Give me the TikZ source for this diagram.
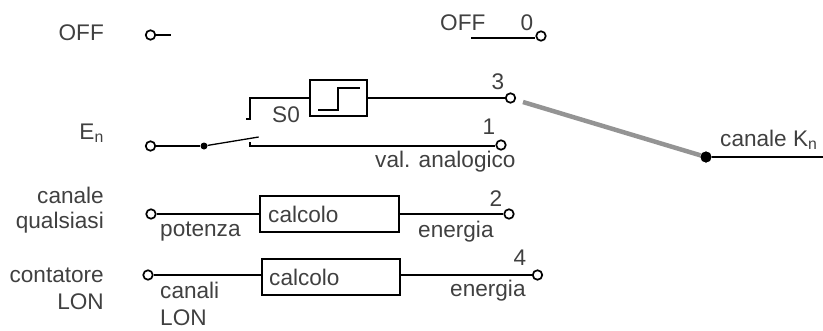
\documentclass[tikz,border=0pt]{standalone}
\usepackage{fontspec}
\setmainfont{Liberation Sans}
\begin{document}
\begin{tikzpicture}[x=1pt,y=-1pt,
  wire/.style={line width=2.1pt,black},
  thin wire/.style={line width=1.3pt,black},
  term/.style={circle,draw=black,line width=1.7pt,fill=white,minimum size=9.5pt,inner sep=0pt},
  jdot/.style={circle,fill=black,inner sep=0pt,minimum size=#1},
  block/.style={draw=black,line width=2.1pt,inner sep=0pt},
  lab/.style={inner sep=0pt,text=black!75,font=\fontsize{22.6}{25}\selectfont},
  leftlab/.style={lab,align=right,anchor=east}]
\useasboundingbox (0,0) rectangle (823,330);
% terminals
\node[term] (toff) at (150.5,35) {};
\coordinate (toffe) at (171,35);
\coordinate (off0s) at (471,38);
\node[term] (t0) at (541,36) {};
\node[term] (t3) at (510.5,98) {};
\node[term] (t1) at (501,145) {};
\node[term] (ten) at (150.5,146) {};
\node[term] (tq) at (151,214) {};
\node[term] (t2) at (509,214) {};
\node[term] (tl) at (148,275) {};
\node[term] (t4) at (537.5,275) {};
\node[jdot=7pt] (sw) at (204,146) {};
\node[jdot=11pt] (kn) at (706,157) {};
\coordinate (kne) at (823,157);
\coordinate (gs) at (523,102);
% blocks
\node[block,minimum width=57pt,minimum height=36pt] (hy) at (338.5,98) {};
\node[block,minimum width=139pt,minimum height=36pt] (c1) at (329.5,214) {};
\node[block,minimum width=138pt,minimum height=36pt] (c2) at (331,277) {};
\node[lab,anchor=west] (c1t) at (268,214) {calcolo};
\node[lab,anchor=west] (c2t) at (269,277) {calcolo};
% step symbol
\coordinate (st1) at (318,110);
\coordinate (st2) at (338,110);
\coordinate (st3) at (338,88);
\coordinate (st4) at (360,88);
\draw[wire] (st1) -- (st2) -- (st3) -- (st4);
% wires
\draw[wire] (toff) -- (toffe);
\draw[wire] (off0s) -- (off0s -| t0.west);
\coordinate (u1) at (246,119);
\coordinate (u2) at (250,119);
\coordinate (u3) at (250,98);
\draw[wire] (u1) -- (u2) -- (u3) -- (hy.west |- u3);
\draw[wire] (hy.east) -- (t3);
\draw[wire] (ten) -- (sw);
\coordinate (arm) at (258.7,137);
\draw[thin wire] (sw) -- (arm);
\coordinate (l1) at (250,142);
\coordinate (l2) at (250,146);
\draw[wire] (l1) -- (l2) -- (l2 -| t1.west);
\draw[wire] (tq) -- (c1.west |- tq);
\draw[wire] (c1.east |- t2) -- (t2);
\draw[wire] (tl) -- (c2.west |- tl);
\draw[wire] (c2.east |- t4) -- (t4);
\draw[line width=4.5pt,black!42] (gs) -- (kn);
\draw[wire] (kn) -- (kne);
\node[jdot=11pt] at (kn) {};
% labels
\node[leftlab] (loff) at (104,33) {OFF};
\node[leftlab] (len) at (104,133) {E\textsubscript{n}};
\node[leftlab] (lq) at (104,210) {canale\\qualsiasi};
\node[leftlab] (lc) at (104,289) {contatore\\[2pt]LON};
\node[lab,anchor=west] (roff) at (440,23) {OFF};
\node[lab] (n0) at (527,23) {0};
\node[lab] (n3) at (498,82) {3};
\node[lab] (n1) at (489,127) {1};
\node[lab] (n2) at (496,199) {2};
\node[lab] (n4) at (520,258) {4};
\node[lab] (s0) at (286,115) {S0};
\node[lab,anchor=west] (va) at (375,162) {val. analogico};
\node[lab,anchor=west] (kl) at (720,140) {canale K\textsubscript{n}};
\node[lab,anchor=west] (po) at (160,232) {potenza};
\node[lab,anchor=west] (e1) at (418,232) {energia};
\node[lab,anchor=west] (e2) at (450,291) {energia};
\node[lab,anchor=west,align=left] (cl) at (160,303.5) {canali\\[2pt]LON};
\end{tikzpicture}
\end{document}
